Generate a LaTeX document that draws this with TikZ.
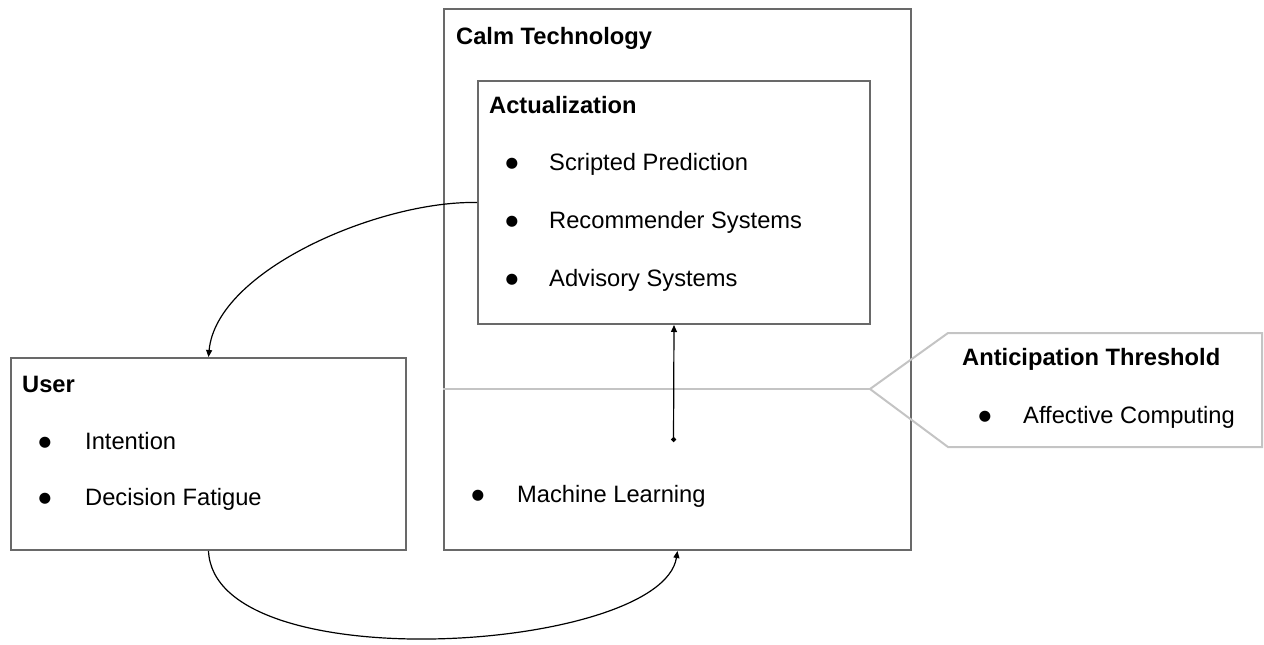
\documentclass[tikz,border=0pt]{standalone}
\usepackage{fontspec}
\setmainfont{Liberation Sans}
\newfontfamily\bulletfont{DejaVu Sans}
\usetikzlibrary{arrows.meta}
\definecolor{boxgray}{HTML}{696969}
\definecolor{lightline}{HTML}{C4C4C4}
\tikzset{
  frame/.style={draw=boxgray, line width=2pt, anchor=north west, inner sep=0pt, fill=none},
  txt/.style={anchor=base west, inner sep=0pt, font=\fontsize{23.7}{28}\selectfont},
  ttl/.style={anchor=base west, inner sep=0pt, font=\fontsize{23.7}{28}\selectfont\bfseries},
  dot/.style={anchor=center, inner sep=0pt, font=\bulletfont\fontsize{14.5}{16}\selectfont},
  conn/.style={draw=black, line width=1.2pt, -{Triangle[length=7pt,width=6pt]}},
  divider/.style={draw=lightline, line width=2pt},
}
\begin{document}
\begin{tikzpicture}[x=1pt,y=-1pt]
\useasboundingbox (0,0) rectangle (1264,645);

% containers
\node[frame, minimum width=467pt, minimum height=541pt] (calm) at (443,8) {};
\node[frame, minimum width=392pt, minimum height=243pt] (act) at (477,80) {};
\node[frame, minimum width=395pt, minimum height=192pt] (user) at (10,357) {};

% threshold line and callout
\coordinate (tip) at (870,389);
\draw[divider] (calm.west |- tip) -- (tip);
\draw[divider, line join=miter] (tip) -- (948,333) -- (1262,333) -- (1262,447) -- (948,447) -- cycle;

% Calm Technology
\node[ttl] (calmT) at (456,44) {Calm Technology};

% Actualization
\node[ttl] (actT) at (489,113) {Actualization};
\node[dot] (b1) at (512,164) {●};
\node[txt] (a1) at (549,170) {Scripted Prediction};
\node[dot] (b2) at (512,222) {●};
\node[txt] (a2) at (549,228) {Recommender Systems};
\node[dot] (b3) at (512,280) {●};
\node[txt] (a3) at (549,286) {Advisory Systems};

% User
\node[ttl] (userT) at (22,392) {User};
\node[dot] (b4) at (45,443) {●};
\node[txt] (u1) at (85,449) {Intention};
\node[dot] (b5) at (45,499) {●};
\node[txt] (u2) at (85,505) {Decision Fatigue};

% Machine Learning
\node[dot] (b6) at (478,496) {●};
\node[txt] (ml) at (517,502) {Machine Learning};

% Anticipation Threshold
\node[ttl] (antT) at (962,365) {Anticipation Threshold};
\node[dot] (b7) at (985,417) {●};
\node[txt] (aff) at (1023,423) {Affective Computing};

% connectors
\coordinate (mlDot) at (673.5,442);
\draw[conn, {Circle[length=5pt]}-{Triangle[length=7pt,width=6pt]}] (mlDot) -- (act.south);
\draw[conn] (act.west) .. controls +(-97,-2) and +(8,-87) .. (user.north);
\draw[conn] (user.south) .. controls +(6,131) and +(-16,101) .. (calm.south);
\end{tikzpicture}
\end{document}
